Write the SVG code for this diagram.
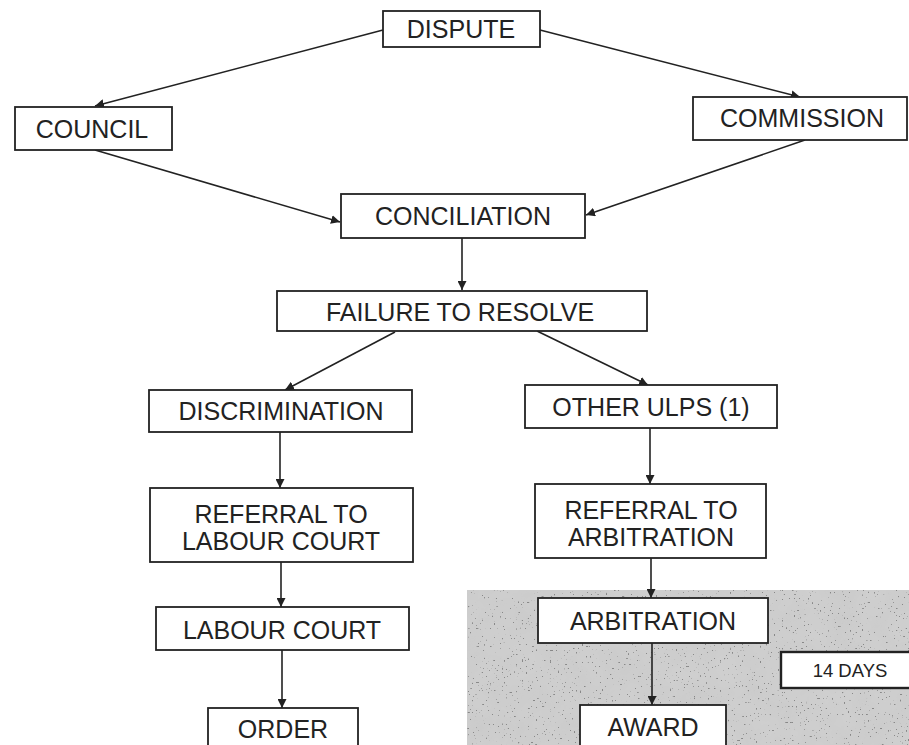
<svg xmlns="http://www.w3.org/2000/svg" width="909" height="745" viewBox="0 0 909 745">
<defs>
<marker id="ah" viewBox="0 0 10 10" refX="10" refY="5" markerWidth="9" markerHeight="9" markerUnits="userSpaceOnUse" orient="auto">
<path d="M0,0 L10,5 L0,10 z" fill="#222"/>
</marker>
<filter id="tex" x="0" y="0" width="100%" height="100%">
<feTurbulence type="fractalNoise" baseFrequency="0.035" numOctaves="4" seed="7" result="n"/>
<feColorMatrix in="n" type="matrix" values="0 0 0 0 0.6  0 0 0 0 0.6  0 0 0 0 0.6  0 0 0 -1.6 1.25" result="c"/>
<feComposite in="c" in2="SourceGraphic" operator="in"/>
</filter>
<filter id="speck" x="0" y="0" width="100%" height="100%">
<feTurbulence type="fractalNoise" baseFrequency="0.5" numOctaves="1" seed="11" result="n"/>
<feColorMatrix in="n" type="matrix" values="0 0 0 0 0.15  0 0 0 0 0.15  0 0 0 0 0.15  0 0 0 -25 7.5" result="c"/>
<feComposite in="c" in2="SourceGraphic" operator="in"/>
</filter>
</defs>
<style>
.box{fill:#fff;stroke:#222;stroke-width:1.8}
.t{font-family:"Liberation Sans",Arial,sans-serif;font-size:25px;fill:#222;text-anchor:middle}
.c{stroke:#222;stroke-width:1.6;fill:none;marker-end:url(#ah)}
</style>
<rect width="909" height="745" fill="#fff"/>
<g id="texture">
<rect x="467" y="590" width="442" height="155" fill="#cfcfcf"/>
<rect x="467" y="590" width="442" height="155" fill="#fff" filter="url(#tex)"/>
<rect x="467" y="590" width="442" height="155" fill="#fff" filter="url(#speck)" opacity="0.7"/>
</g>
<g id="connectors">
<line class="c" x1="383" y1="30" x2="95" y2="106"/>
<line class="c" x1="540" y1="30" x2="800" y2="97"/>
<line class="c" x1="95" y1="150" x2="340" y2="222"/>
<line class="c" x1="805" y1="140" x2="586" y2="215"/>
<line class="c" x1="462" y1="238" x2="462" y2="290"/>
<line class="c" x1="395" y1="332" x2="285" y2="390"/>
<line class="c" x1="537" y1="331" x2="648" y2="385"/>
<line class="c" x1="280" y1="432" x2="280" y2="488"/>
<line class="c" x1="650" y1="428" x2="650" y2="484"/>
<line class="c" x1="281" y1="562" x2="281" y2="607"/>
<line class="c" x1="651" y1="558" x2="651" y2="598"/>
<line class="c" x1="282" y1="650" x2="282" y2="708"/>
<line class="c" x1="652" y1="643" x2="652" y2="705"/>
</g>
<g id="dispute"><rect class="box" x="383" y="11" width="157" height="36"/><text class="t" x="461" y="38">DISPUTE</text></g>
<g id="council"><rect class="box" x="15" y="107" width="157" height="43"/><text class="t" x="92" y="138">COUNCIL</text></g>
<g id="commission"><rect class="box" x="693" y="97" width="214" height="43"/><text class="t" x="802" y="127">COMMISSION</text></g>
<g id="conciliation"><rect class="box" x="341" y="194" width="244" height="44"/><text class="t" x="463" y="225">CONCILIATION</text></g>
<g id="failure"><rect class="box" x="277" y="291" width="370" height="40"/><text class="t" x="460" y="321">FAILURE TO RESOLVE</text></g>
<g id="discrimination"><rect class="box" x="149" y="390" width="263" height="42"/><text class="t" x="281" y="420">DISCRIMINATION</text></g>
<g id="otherulps"><rect class="box" x="525" y="385" width="252" height="43"/><text class="t" x="651" y="416">OTHER ULPS (1)</text></g>
<g id="referral-lc"><rect class="box" x="150" y="488" width="263" height="74"/><text class="t" x="281" y="523">REFERRAL TO</text><text class="t" x="281" y="550">LABOUR COURT</text></g>
<g id="referral-arb"><rect class="box" x="535" y="484" width="231" height="74"/><text class="t" x="651" y="519">REFERRAL TO</text><text class="t" x="651" y="546">ARBITRATION</text></g>
<g id="labourcourt"><rect class="box" x="156" y="607" width="253" height="43"/><text class="t" x="282" y="639">LABOUR COURT</text></g>
<g id="arbitration"><rect class="box" x="538" y="598" width="230" height="45"/><text class="t" x="653" y="630">ARBITRATION</text></g>
<g id="days14"><rect class="box" x="781" y="652" width="134" height="36" style="stroke-width:2.4"/><text class="t" x="850" y="677" style="font-size:18.5px">14 DAYS</text></g>
<g id="order"><rect class="box" x="208" y="708" width="150" height="44"/><text class="t" x="283" y="738">ORDER</text></g>
<g id="award"><rect class="box" x="580" y="705" width="146" height="44"/><text class="t" x="653" y="736">AWARD</text></g>
</svg>
